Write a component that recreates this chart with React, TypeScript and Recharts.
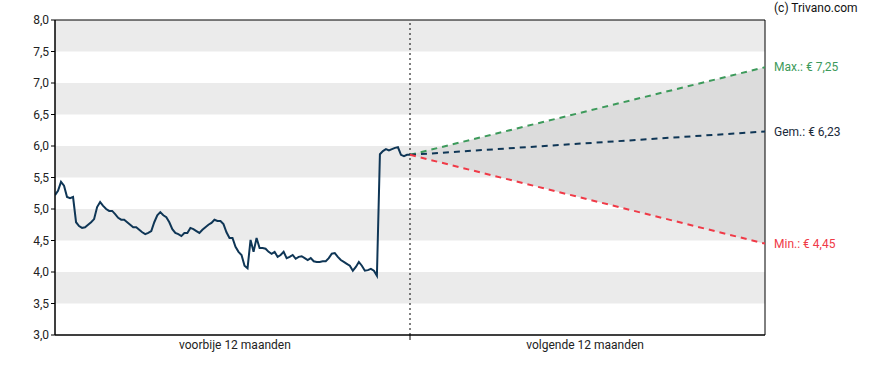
import {
  ComposedChart,
  Line,
  Area,
  XAxis,
  YAxis,
  ReferenceArea,
  ReferenceLine,
  LabelList,
} from 'recharts'

// koers laatste 12 maanden (gelijkmatig verdeeld over -365..0 dagen)
const pastPrices = [
  5.22, 5.29, 5.43, 5.37, 5.19, 5.17, 5.19, 4.79, 4.73, 4.70,
  4.71, 4.75, 4.79, 4.84, 5.03, 5.11, 5.05, 5.00, 4.97, 4.97,
  4.92, 4.86, 4.83, 4.83, 4.79, 4.75, 4.71, 4.71, 4.67, 4.63,
  4.60, 4.62, 4.65, 4.79, 4.90, 4.95, 4.90, 4.87, 4.79, 4.68,
  4.62, 4.60, 4.57, 4.62, 4.62, 4.70, 4.68, 4.65, 4.62, 4.67,
  4.71, 4.75, 4.78, 4.83, 4.81, 4.81, 4.76, 4.63, 4.54, 4.54,
  4.40, 4.32, 4.27, 4.10, 4.06, 4.51, 4.32, 4.54, 4.38, 4.38,
  4.37, 4.32, 4.29, 4.32, 4.24, 4.27, 4.32, 4.22, 4.24, 4.27,
  4.21, 4.24, 4.25, 4.22, 4.19, 4.22, 4.17, 4.16, 4.16, 4.17,
  4.17, 4.22, 4.29, 4.30, 4.24, 4.19, 4.16, 4.13, 4.10, 4.02,
  4.08, 4.16, 4.10, 4.02, 4.03, 4.05, 4.02, 3.94, 5.87, 5.92,
  5.95, 5.93, 5.95, 5.97, 5.98, 5.86, 5.84, 5.86, 5.86,
]

// verwachting komende 12 maanden
const futureDays = [0, 365]
const maxTarget = [5.86, 7.25]
const avgTarget = [5.86, 6.23]
const minTarget = [5.86, 4.45]

const yTicks = [3, 3.5, 4, 4.5, 5, 5.5, 6, 6.5, 7, 7.5, 8]
const bands = [[3.5, 4], [4.5, 5], [5.5, 6], [6.5, 7], [7.5, 8]]
const xLabels = [
  { day: -180, text: 'voorbije 12 maanden' },
  { day: 0, text: '' },
  { day: 180, text: 'volgende 12 maanden' },
]

const step = 365 / (pastPrices.length - 1)
const data: any[] = pastPrices.map((p, i) => ({ day: -365 + i * step, price: p }))
futureDays.forEach((d, i) => {
  const row = i === 0 ? data[data.length - 1] : { day: d }
  row.day = d
  row.max = maxTarget[i]
  row.avg = avgTarget[i]
  row.min = minTarget[i]
  row.range = [minTarget[i], maxTarget[i]]
  if (i > 0) data.push(row)
})

const fmt = (v: number) => v.toFixed(1).replace('.', ',')
const eur = (v: number) => '€ ' + v.toFixed(2).replace('.', ',')

const GREEN = '#3d9a5b'
const RED = '#f03a47'
const NAVY = '#0f3656'
const FONT = 'Roboto, sans-serif'

function XTick({ x, y, payload }: any) {
  const item = xLabels.find((l) => l.day === payload.value)
  if (!item) return null
  if (!item.text) {
    return <line x1={x} x2={x} y1={y - 8} y2={y - 3} stroke="#000" />
  }
  return (
    <text x={x} y={y + 6} textAnchor="middle" fontSize={12} fill="#222" fontFamily={FONT}>
      {item.text}
    </text>
  )
}

function endLabel(prefix: string, color: string, count: number) {
  return (props: any) => {
    const { x, y, value, index } = props
    if (index !== count - 1 || value == null) return null
    return (
      <text x={x + 9} y={y + 4} fontSize={12} fill={color} fontFamily={FONT}>
        {prefix} {eur(value)}
      </text>
    )
  }
}

export default function App() {
  return (
    <div style={{ position: 'absolute', left: 0, top: 0, width: 888, height: 370, fontFamily: FONT }}>
      <div style={{ position: 'absolute', left: 774, top: 1, fontSize: 12, color: '#111' }}>
        (c) Trivano.com
      </div>
      <ComposedChart width={888} height={370} data={data} margin={{ top: 20, right: 123, bottom: 0, left: 0 }}>
        {bands.map(([a, b]) => (
          <ReferenceArea key={a} y1={a} y2={b} fill="#ebebeb" fillOpacity={1} stroke="none" ifOverflow="hidden" />
        ))}
        <XAxis
          dataKey="day"
          type="number"
          domain={[-365, 365]}
          ticks={xLabels.map((l) => l.day)}
          tick={<XTick />}
          tickLine={false}
          axisLine={{ stroke: '#000' }}
          height={35}
          allowDataOverflow
        />
        <YAxis
          domain={[3, 8]}
          ticks={yTicks}
          tickFormatter={fmt}
          width={55}
          tick={{ fill: '#222', fontSize: 12, fontFamily: FONT }}
          tickSize={4}
          tickLine={{ stroke: '#000' }}
          axisLine={{ stroke: '#000' }}
        />
        <Area
          dataKey="range"
          stroke="none"
          fill="#dcdcdc"
          fillOpacity={1}
          isAnimationActive={false}
        />
        <ReferenceLine x={0} stroke="#000" strokeDasharray="2 3" />
        <ReferenceArea x1={-365} x2={365} y1={3} y2={8} fill="none" stroke="#000" strokeWidth={1} />
        <Line dataKey="price" stroke={NAVY} strokeWidth={2} dot={false} isAnimationActive={false} />
        <Line dataKey="max" stroke={GREEN} strokeWidth={2} strokeDasharray="6 5" dot={false} isAnimationActive={false}>
          <LabelList dataKey="max" content={endLabel('Max.:', GREEN, data.length)} />
        </Line>
        <Line dataKey="avg" stroke={NAVY} strokeWidth={2} strokeDasharray="6 5" dot={false} isAnimationActive={false}>
          <LabelList dataKey="avg" content={endLabel('Gem.:', '#1a2a3a', data.length)} />
        </Line>
        <Line dataKey="min" stroke={RED} strokeWidth={2} strokeDasharray="6 5" dot={false} isAnimationActive={false}>
          <LabelList dataKey="min" content={endLabel('Min.:', RED, data.length)} />
        </Line>
      </ComposedChart>
    </div>
  )
}
